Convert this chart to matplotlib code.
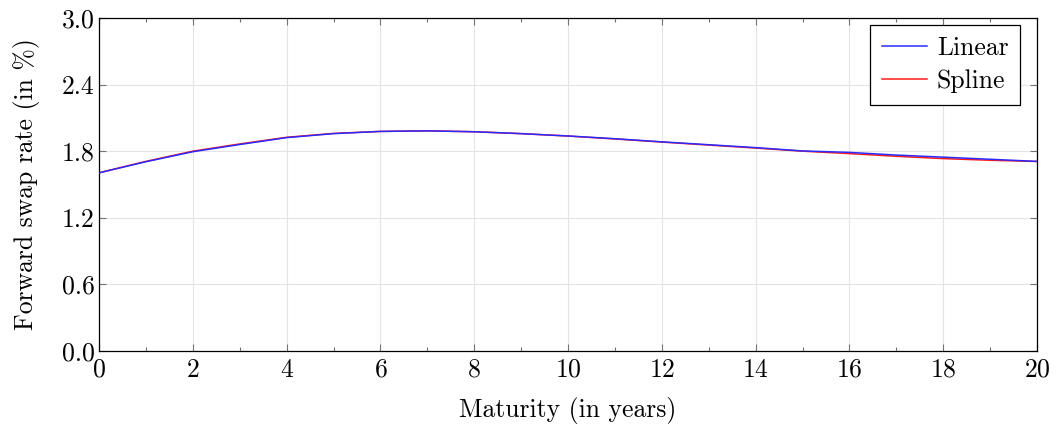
import numpy as np
import matplotlib.pyplot as plt
from matplotlib.ticker import MultipleLocator, FormatStrFormatter

# Forward swap rates (in %), one value per year
years = list(range(0, 21))
linear = [1.605, 1.705, 1.795, 1.860, 1.922, 1.958, 1.978, 1.983, 1.975, 1.958,
          1.937, 1.912, 1.884, 1.858, 1.832, 1.802, 1.789, 1.765, 1.746, 1.727, 1.708]
spline = [1.605, 1.708, 1.800, 1.865, 1.925, 1.960, 1.978, 1.983, 1.975, 1.958,
          1.936, 1.910, 1.882, 1.855, 1.828, 1.800, 1.778, 1.754, 1.733, 1.718, 1.707]

x_ticks = [0, 2, 4, 6, 8, 10, 12, 14, 16, 18, 20]
y_ticks = [0.0, 0.6, 1.2, 1.8, 2.4, 3.0]

plt.rcParams['font.family'] = 'cmr10'
plt.rcParams['mathtext.fontset'] = 'cm'
plt.rcParams['axes.formatter.use_mathtext'] = True
fs = 18.5

fig = plt.figure(figsize=(10.57, 4.28), dpi=100)
ax = fig.add_axes([0.0937, 0.180, 0.8874, 0.778])

# spline underneath, linear drawn on top as in the reference
ax.plot(years, spline, color='#ff1a1a', lw=1.1, label='Spline', zorder=2)
ax.plot(years, linear, color='#2a2aff', lw=1.1, label='Linear', zorder=3)

ax.set_xlim(0, 20)
ax.set_ylim(0, 3.0)
ax.set_xticks(x_ticks)
ax.set_yticks(y_ticks)
ax.xaxis.set_minor_locator(MultipleLocator(1))
ax.yaxis.set_major_formatter(FormatStrFormatter('%.1f'))

ax.grid(True, which='major', color='#e4e4e4', lw=0.8)
ax.set_axisbelow(True)
ax.tick_params(which='both', direction='in', top=True, right=True,
               color='0.45', labelsize=fs)
ax.tick_params(axis='x', which='major', pad=5)
ax.tick_params(axis='y', which='major', pad=3)
ax.tick_params(which='major', length=5, width=0.8)
ax.tick_params(which='minor', length=3, width=0.8)
for s in ax.spines.values():
    s.set_linewidth(0.9)

ax.set_xlabel('Maturity (in years)', fontsize=fs, labelpad=11)
ax.set_ylabel('Forward swap rate (in %)', fontsize=fs, labelpad=16)

handles, labels = ax.get_legend_handles_labels()
leg = ax.legend(handles[::-1], labels[::-1], loc='upper right',
                bbox_to_anchor=(0.982, 0.979), borderaxespad=0, fontsize=fs,
                fancybox=False, framealpha=1, edgecolor='black',
                handlelength=1.75, borderpad=0.45,
                handletextpad=0.4, labelspacing=0.35)
leg.get_frame().set_linewidth(0.9)

fig.savefig('out.png', dpi=100)
